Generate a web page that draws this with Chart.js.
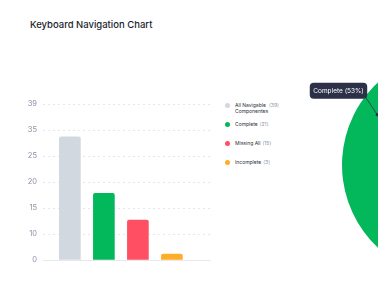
<!DOCTYPE html>
<html>
<head>
<meta charset="utf-8">
<script src="https://cdn.jsdelivr.net/npm/chart.js@4.4.1/dist/chart.umd.min.js"></script>
<style>
  html, body { margin: 0; padding: 0; background: #fff; overflow: hidden; width: 378px; height: 282px; }
  body { position: relative; font-family: Inter, "Noto Sans", sans-serif; }
  #titulo { position: absolute; left: 30px; top: 19px; font-size: 9.5px; line-height: 12px; font-weight: 500; color: #1b1f2e; }
  #barras { position: absolute; left: 0; top: 0; }
  #torta { position: absolute; left: 290px; top: 45px; }
  .voce { position: absolute; left: 225px; display: flex; align-items: flex-start; font-size: 5px; line-height: 6px; color: #2b2f3c; }
  .pallino { width: 5px; height: 5px; border-radius: 50%; margin-top: 0.5px; margin-right: 5px; flex: none; }
  .testo { max-width: 32px; }
  .conta { color: #8e92a0; margin-left: 2px; }
</style>
</head>
<body>
<div id="titulo">Keyboard Navigation Chart</div>
<canvas id="barras" width="220" height="282"></canvas>
<canvas id="torta" width="330" height="240"></canvas>
<div id="legenda"></div>

<script>
// categorie e valori
const categorie = ["All Navigable Componentes", "Complete", "Missing All", "Incomplete"];
const conteggi = [39, 21, 15, 3];
const colori = ["#d1d8e0", "#03b85b", "#ff4f63", "#fdad27"];

// etichette dell'asse y (spaziate in modo uniforme nel grafico originale)
const etichetteY = ["0", "10", "15", "20", "25", "35", "39"];
// altezze delle barre, in passi dell'asse y
const altezzeBarre = [4.74, 2.56, 1.54, 0.23];

// torta: solo le tre parti
const torteEtichette = ["Complete", "Missing All", "Incomplete"];
const torteValori = [21, 15, 3];
const torteColori = ["#03b85b", "#ff4f63", "#fdad27"];

window.onload = () => {
  disegnaBarre();
  disegnaTorta();
  caricaLegenda();
};

function disegnaBarre() {
  let punti = [];
  for (let i = 0; i < altezzeBarre.length; i++) {
    punti.push({ x: i, y: altezzeBarre[i] });
  }
  new Chart(document.getElementById("barras"), {
    type: "bar",
    data: {
      datasets: [{
        label: "Componenti",
        data: punti,
        backgroundColor: colori,
        barThickness: 21,
        borderRadius: 2,
        borderSkipped: "start"
      }]
    },
    options: {
      responsive: false,
      animation: false,
      layout: { padding: { top: 104, right: 10, bottom: 22, left: 0 } },
      plugins: { legend: { display: false }, tooltip: { enabled: false } },
      scales: {
        x: {
          type: "linear",
          offset: false,
          min: -0.79,
          max: 4.12,
          ticks: { display: false },
          grid: { display: false },
          border: { display: true, color: "#e6e8ee", width: 1 },
          afterFit: (s) => { s.height = 0; }
        },
        y: {
          min: 0,
          max: 6,
          ticks: {
            stepSize: 1,
            padding: 6,
            color: "#8b8fa6",
            font: { family: "Inter", size: 7.5 },
            callback: (v) => etichetteY[v]
          },
          grid: { color: "#e4e7ed", drawTicks: false },
          border: { display: false, dash: [2, 3] },
          afterFit: (s) => { s.width = 43; }
        }
      }
    }
  });
}

// etichetta scura con linea guida sulla fetta "Complete"
const etichettaTorta = {
  id: "etichettaTorta",
  afterDraw(chart) {
    const arco = chart.getDatasetMeta(0).data[0];
    const ctx = chart.ctx;
    const medio = (arco.startAngle + arco.endAngle) / 2;
    const px = arco.x + Math.cos(medio) * arco.outerRadius * 0.82;
    const py = arco.y + Math.sin(medio) * arco.outerRadius * 0.82;
    let tot = torteValori.reduce((a, b) => a + b, 0);
    let testo = torteEtichette[0] + " (" + Math.floor(torteValori[0] / tot * 100) + "%)";

    ctx.save();
    ctx.font = "6.5px Inter";
    let w = ctx.measureText(testo).width + 7;
    let h = 16;
    let bx = px - 10 - w;
    let by = py - 16 - h;

    ctx.strokeStyle = "#2d3148";
    ctx.lineWidth = 0.8;
    ctx.beginPath();
    ctx.moveTo(px, py);
    ctx.lineTo(bx + w - 2, by + h - 2);
    ctx.stroke();
    ctx.fillStyle = "#2d3148";
    ctx.beginPath();
    ctx.arc(px, py, 1.6, 0, Math.PI * 2);
    ctx.fill();

    ctx.beginPath();
    ctx.roundRect(bx, by, w, h, 4);
    ctx.fill();
    ctx.fillStyle = "#ffffff";
    ctx.textAlign = "center";
    ctx.textBaseline = "middle";
    ctx.fillText(testo, bx + w / 2, by + h / 2 + 0.5);
    ctx.restore();
  }
};

function disegnaTorta() {
  new Chart(document.getElementById("torta"), {
    type: "pie",
    data: {
      labels: torteEtichette,
      datasets: [{ data: torteValori, backgroundColor: torteColori, borderWidth: 0 }]
    },
    options: {
      responsive: false,
      animation: false,
      rotation: 206,
      layout: { padding: { top: 7, bottom: 7, left: 52, right: 52 } },
      plugins: { legend: { display: false }, tooltip: { enabled: false } }
    },
    plugins: [etichettaTorta]
  });
}

function caricaLegenda() {
  const box = document.getElementById("legenda");
  const centriY = [105, 124, 143, 162];
  for (let i = 0; i < categorie.length; i++) {
    let d = document.createElement("div");
    d.className = "voce";
    d.style.top = (centriY[i] - 3) + "px";
    d.innerHTML = '<span class="pallino" style="background:' + colori[i] + '"></span>' +
      '<span class="testo">' + categorie[i] + '</span>' +
      '<span class="conta">(' + conteggi[i] + ')</span>';
    box.appendChild(d);
  }
}
</script>
</body>
</html>
